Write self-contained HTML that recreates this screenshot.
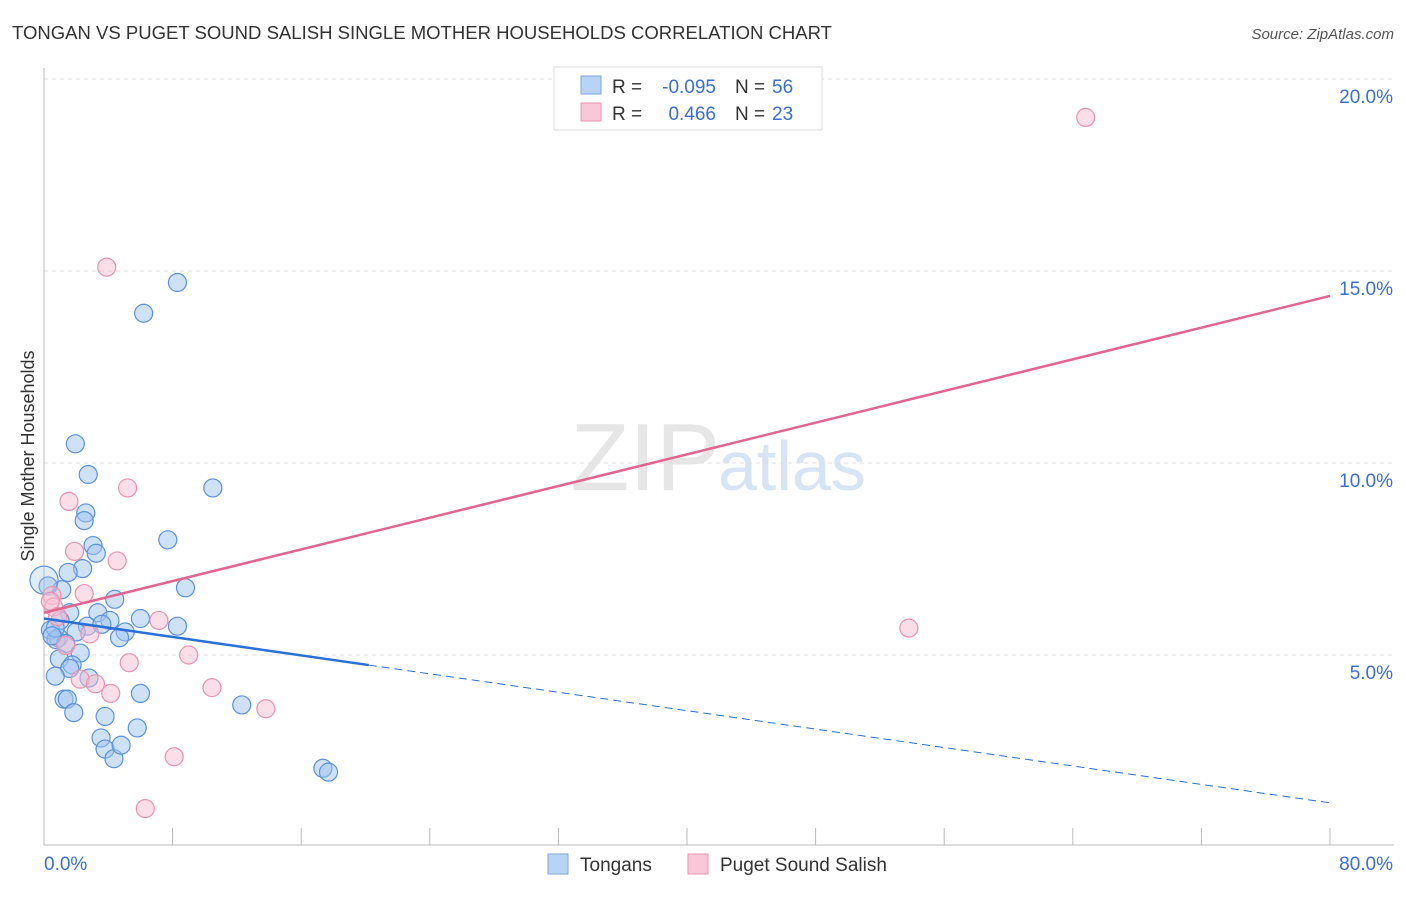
<!DOCTYPE html>
<html><head><meta charset="utf-8"><style>
body{margin:0;background:#fff;font-family:"Liberation Sans",sans-serif;}
svg text{font-family:"Liberation Sans",sans-serif;}
</style></head><body>
<svg id="c" width="1406" height="892">
<text x="12" y="39" font-size="18" fill="#333" textLength="820" lengthAdjust="spacingAndGlyphs">TONGAN VS PUGET SOUND SALISH SINGLE MOTHER HOUSEHOLDS CORRELATION CHART</text>
<text x="1394" y="39" font-size="15" fill="#555" text-anchor="end" font-style="italic">Source: ZipAtlas.com</text>
<text x="720" y="490" font-size="96" fill="#e6e6e6" text-anchor="end" font-family="Liberation Serif">ZIP</text>
<text x="718" y="490" font-size="70" fill="#d6e4f5">atlas</text>
<g id="grid"></g>
<g id="axes"></g>
<g id="pts"></g>
<g id="trend"></g>
<text transform="translate(34,456) rotate(-90)" font-size="18" fill="#333" text-anchor="middle">Single Mother Households</text>
<g>
<rect x="554" y="67" width="268" height="63" fill="#fff" stroke="#ddd"/>
<rect x="581" y="76" width="20" height="18" fill="#b8d4f5" stroke="#7aa7e0"/>
<rect x="581" y="103" width="20" height="18" fill="#f9c8d8" stroke="#ea93b0"/>
<text x="612" y="93" font-size="19" fill="#333">R =</text>
<text x="716" y="93" font-size="19" fill="#3a6fd4" text-anchor="end">-0.095</text>
<text x="735" y="93" font-size="19" fill="#333">N =</text>
<text x="772" y="93" font-size="19" fill="#3a6fd4">56</text>
<text x="612" y="120" font-size="19" fill="#333">R =</text>
<text x="716" y="120" font-size="19" fill="#3a6fd4" text-anchor="end">0.466</text>
<text x="735" y="120" font-size="19" fill="#333">N =</text>
<text x="772" y="120" font-size="19" fill="#3a6fd4">23</text>
</g>
<g>
<rect x="548" y="854" width="20" height="20" fill="#b8d4f5" stroke="#7aa7e0"/>
<text x="580" y="871" font-size="19" fill="#333">Tongans</text>
<rect x="688" y="854" width="20" height="20" fill="#f9c8d8" stroke="#ea93b0"/>
<text x="720" y="871" font-size="19" fill="#333">Puget Sound Salish</text>
</g>
</svg>
<script>
const xTicks=[0,80];
const yTicks=[5,10,15,20];
const blueX=[8.3,6.2,1.95,2.75,10.5,2.6,2.5,7.7,3.05,3.25,2.4,1.5,8.8,1.1,4.4,0.25,1.6,3.35,6.0,1.0,4.1,8.3,2.7,5.05,0.4,2.0,4.7,0.9,0.75,1.35,2.25,0.95,1.75,1.6,0.7,2.8,1.25,1.45,1.85,3.8,6.0,5.8,12.3,3.55,3.8,4.35,4.8,17.35,17.7,0.7,0.0,3.6,0.5];
const blueY=[14.7,13.9,10.5,9.7,9.35,8.7,8.5,8.0,7.85,7.65,7.25,7.15,6.75,6.7,6.45,6.8,6.1,6.1,5.95,5.9,5.9,5.75,5.75,5.6,5.65,5.6,5.45,5.45,5.4,5.3,5.05,4.9,4.74,4.65,4.45,4.4,3.85,3.85,3.5,3.4,4.0,3.1,3.7,2.84,2.55,2.3,2.65,2.05,1.95,5.7,6.95,5.8,5.5];
const pinkX=[3.9,64.8,1.55,5.2,1.9,4.55,2.5,0.5,0.6,0.85,7.15,2.85,1.35,9.0,5.3,2.25,3.2,4.15,10.45,13.8,8.1,6.3,53.8,0.4];
const pinkY=[15.1,19.0,9.0,9.35,7.7,7.45,6.6,6.55,6.25,6.0,5.9,5.55,5.25,5.0,4.8,4.37,4.25,4.0,4.15,3.6,2.35,1.0,5.7,6.4];
const pinkTrend=[6.1,14.35];
const blueTrend=[5.95,1.15];
const blueSolidEnd=20.2;
const X=v=>44+v*(1286/80), Y=v=>847-v*38.4;
const ns="http://www.w3.org/2000/svg";
function mk(t,a,p){const e=document.createElementNS(ns,t);for(const k in a)e.setAttribute(k,a[k]);p.appendChild(e);return e;}
const grid=document.getElementById('grid'),axes=document.getElementById('axes');
yTicks.forEach(v=>{
 const l=mk('line',{x1:44,x2:1394,y1:Y(v),y2:Y(v),stroke:'#ddd','stroke-dasharray':'4,4'},grid);
 
 
 const t=mk('text',{x:1393,y:Y(v)+24,'font-size':19,fill:'#3a6fd4','text-anchor':'end'},axes);
 t.textContent=v.toFixed(1)+'%';
 
 
});
mk('line',{x1:44,x2:44,y1:68,y2:845,stroke:'#bbb'},axes);
mk('line',{x1:44,x2:1394,y1:845,y2:845,stroke:'#bbb'},axes);
for(let i=0;i<=10;i++){const x=X(i*8);mk('line',{x1:x,x2:x,y1:828,y2:845,stroke:'#bbb'},axes);}
xTicks.forEach((v,i)=>{
 const t=mk('text',{x:i?1393:44,y:870,'font-size':19,fill:'#3a6fd4','text-anchor':i?'end':'start'},axes);
 t.textContent=v.toFixed(1)+'%';
 
 
});
const pts=document.getElementById('pts');
blueX.forEach((v,i)=>{
 const c=mk('circle',{cx:X(v),cy:Y(blueY[i]),r:i==50?14:9,fill:i==50?'rgba(160,196,240,0.3)':'rgba(160,196,240,0.5)',stroke:'#5b92dd','stroke-width':1.2},pts);
 
 
});
pinkX.forEach((v,i)=>{
 const c=mk('circle',{cx:X(v),cy:Y(pinkY[i]),r:9,fill:'rgba(248,190,210,0.5)',stroke:'#ea93b0','stroke-width':1.2},pts);
 
 
});
const tr=document.getElementById('trend');
const bAt=v=>blueTrend[0]+(blueTrend[1]-blueTrend[0])*v/80;
const p=mk('line',{x1:X(0),y1:Y(pinkTrend[0]),x2:X(80),y2:Y(pinkTrend[1]),stroke:'#e2648f','stroke-width':2.5},tr);


const b=mk('line',{x1:X(0),y1:Y(bAt(0)),x2:X(blueSolidEnd),y2:Y(bAt(blueSolidEnd)),stroke:'#2a6fd6','stroke-width':2.5},tr);


const bd=mk('line',{x1:X(blueSolidEnd),y1:Y(bAt(blueSolidEnd)),x2:X(80),y2:Y(bAt(80)),stroke:'#2a6fd6','stroke-width':1,'stroke-dasharray':'8,5'},tr);


</script>
</body></html>
